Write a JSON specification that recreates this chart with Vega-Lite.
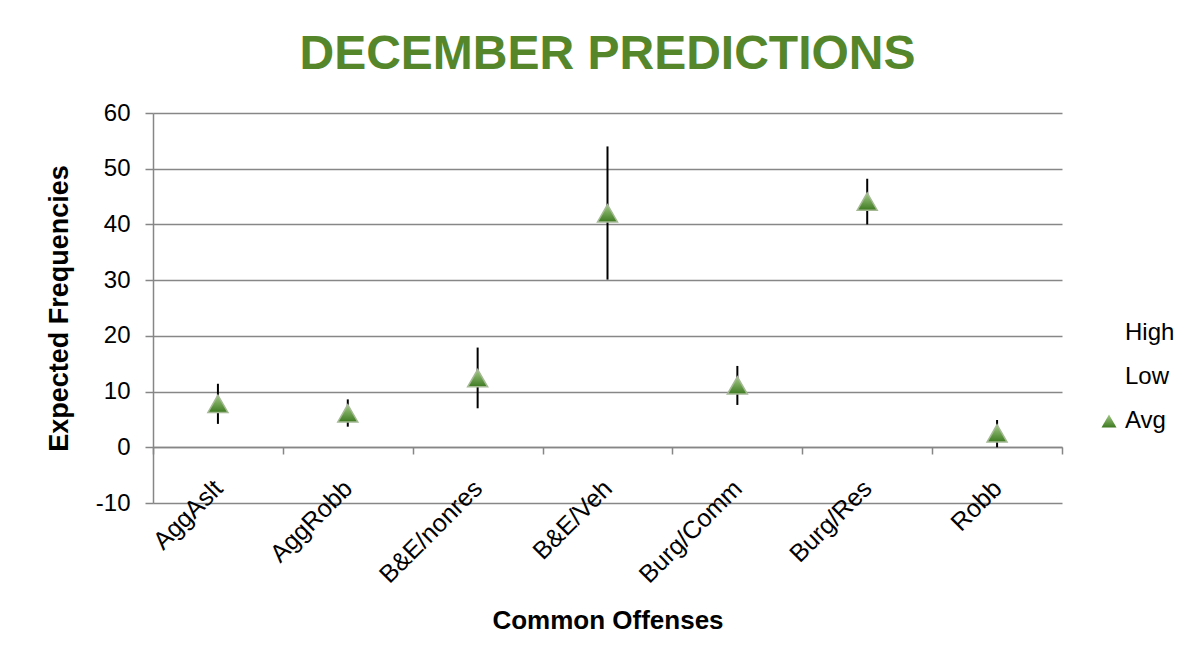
{
  "$schema": "https://vega.github.io/schema/vega-lite/v6.json",
  "width": 909,
  "height": 390,
  "autosize": {"type": "none"},
  "padding": {"left": 153, "top": 113, "right": 137, "bottom": 164},
  "background": "white",
  "config": {"font": "Liberation Sans", "view": {"stroke": null}},
  "title": {
    "text": "DECEMBER PREDICTIONS",
    "font": "Liberation Sans",
    "fontSize": 48,
    "fontWeight": "bold",
    "color": "#55862a",
    "anchor": "middle",
    "offset": 22
  },
  "data": {
    "values": [
      {"offense": "AggAslt", "high": 11.4, "low": 4.2, "avg": 7.8},
      {"offense": "AggRobb", "high": 8.6, "low": 3.7, "avg": 6.1},
      {"offense": "B&E/nonres", "high": 17.9, "low": 7.0, "avg": 12.4},
      {"offense": "B&E/Veh", "high": 54.0, "low": 30.1, "avg": 42.0},
      {"offense": "Burg/Comm", "high": 14.6, "low": 7.6, "avg": 11.1},
      {"offense": "Burg/Res", "high": 48.2, "low": 40.0, "avg": 44.1},
      {"offense": "Robb", "high": 4.9, "low": 0.0, "avg": 2.5}
    ]
  },
  "encoding": {
    "x": {
      "field": "offense",
      "type": "nominal",
      "sort": null,
      "scale": {"type": "band", "paddingInner": 0, "paddingOuter": 0},
      "axis": {
        "title": "Common Offenses",
        "titleFontSize": 26,
        "titleFontWeight": "bold",
        "titleColor": "black",
        "titlePadding": 20,
        "offset": -56,
        "labelAngle": -45,
        "labelAlign": "right",
        "labelBaseline": "middle",
        "labelFontSize": 25,
        "labelColor": "black",
        "labelPadding": 30,
        "tickBand": "extent",
        "tickSize": 7,
        "tickColor": "#868686",
        "tickWidth": 1.5,
        "domainColor": "#868686",
        "domainWidth": 1.5,
        "grid": false
      }
    }
  },
  "layer": [
    {
      "mark": {"type": "rule", "color": "black", "strokeWidth": 2},
      "encoding": {
        "y": {
          "field": "low",
          "type": "quantitative",
          "scale": {"domain": [-10, 60], "nice": false, "zero": false},
          "axis": {
            "title": "Expected Frequencies",
            "titleFontSize": 27,
            "titleFontWeight": "bold",
            "titleColor": "black",
            "titlePadding": 22,
            "values": [-10, 0, 10, 20, 30, 40, 50, 60],
            "labelExpr": "replace(datum.label, '−', '-')",
            "labelFontSize": 24,
            "labelColor": "black",
            "labelPadding": 15,
            "tickSize": 8,
            "tickColor": "#868686",
            "tickWidth": 1.5,
            "domainColor": "#868686",
            "domainWidth": 1.5,
            "grid": true,
            "gridColor": "#878787",
            "gridWidth": 1.5
          }
        },
        "y2": {"field": "high"}
      }
    },
    {
      "mark": {
        "type": "point",
        "filled": true,
        "size": 400,
        "opacity": 1,
        "fill": {
          "gradient": "linear",
          "x1": 0, "y1": 0, "x2": 0, "y2": 1,
          "stops": [
            {"offset": 0, "color": "#a3c986"},
            {"offset": 1, "color": "#3d7a20"}
          ]
        },
        "stroke": "#a4b994",
        "strokeWidth": 1.5
      },
      "encoding": {
        "y": {"field": "avg", "type": "quantitative"},
        "shape": {
          "datum": "Avg",
          "type": "nominal",
          "scale": {
            "domain": ["High", "Low", "Avg"],
            "range": ["M0,0", "M0,0", "triangle-up"]
          },
          "legend": {
            "title": null,
            "orient": "none",
            "direction": "vertical",
            "legendX": 944,
            "legendY": 208,
            "labelFontSize": 24,
            "labelColor": "black",
            "labelOffset": 4,
            "symbolSize": 225,
            "rowPadding": 20,
            "symbolFillColor": "#6aa048",
            "symbolStrokeColor": "#a4b994",
            "symbolStrokeWidth": 1
          }
        }
      }
    }
  ]
}
